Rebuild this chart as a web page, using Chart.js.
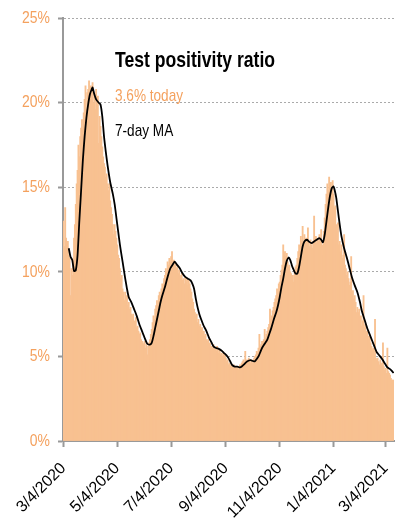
<!DOCTYPE html>
<html><head><meta charset="utf-8">
<script src="https://cdn.jsdelivr.net/npm/chart.js@4/dist/chart.umd.min.js"></script>
<style>html,body{margin:0;padding:0;background:#fff}#wrap{width:402px;height:529px;position:relative}</style>
</head><body><div id="wrap"><canvas id="c" width="402" height="529"></canvas></div>
<script>
// Daily test positivity (%), first day = 3/4/2020
const mar2020 = [13.0, 11.5, 13.8, 12.0, 8.4, 11.8, 11.0, 10.8, 8.6, 10.2, 9.8, 10.6, 12.0, 12.8, 14.0, 15.2, 16.0, 17.5, 16.8, 18.0, 18.5, 19.0, 18.4, 19.4, 20.2, 21.0, 19.6, 20.6];
const apr2020 = [20.8, 21.3, 20.2, 21.0, 20.6, 21.2, 20.0, 20.5, 19.6, 20.8, 20.0, 20.4, 17.6, 19.2, 18.6, 18.0, 17.4, 16.8, 16.4, 16.2, 15.6, 15.8, 15.2, 14.8, 15.2, 14.2, 13.8, 13.4, 12.8, 12.2];
const may2020 = [12.8, 12.4, 12.0, 11.6, 11.0, 10.8, 10.2, 9.6, 9.8, 9.0, 8.8, 8.3, 8.8, 8.4, 8.6, 8.0, 8.2, 7.8, 7.9, 7.5, 7.4, 7.5, 7.1, 7.0, 7.3, 6.7, 6.8, 6.5, 6.3, 6.4, 6.0];
const jun2020 = [5.9, 5.8, 5.7, 5.9, 5.5, 5.7, 5.1, 5.6, 5.8, 6.0, 6.3, 6.6, 7.0, 7.4, 7.2, 7.8, 8.0, 8.3, 8.0, 8.6, 8.8, 8.6, 9.0, 9.3, 9.2, 9.6, 9.8, 10.2, 10.0, 10.6];
const jul2020 = [10.4, 10.8, 10.6, 10.9, 11.2, 10.6, 10.7, 10.4, 10.5, 10.2, 10.3, 9.9, 10.1, 9.8, 9.7, 9.9, 9.5, 9.6, 9.3, 9.7, 9.4, 9.6, 9.2, 9.5, 9.3, 9.0, 8.8, 8.4, 8.2, 7.8, 7.6];
const aug2020 = [7.4, 7.5, 7.0, 7.2, 6.8, 6.9, 6.6, 6.7, 6.4, 6.5, 6.2, 6.3, 6.0, 5.9, 6.0, 5.7, 5.8, 5.5, 5.6, 5.5, 5.7, 5.4, 5.5, 5.3, 5.6, 5.4, 5.2, 5.4, 5.1, 5.2, 5.0];
const sep2020 = [5.2, 5.0, 5.1, 4.9, 4.7, 4.8, 4.5, 4.6, 4.4, 4.5, 4.3, 4.4, 4.5, 4.3, 4.4, 4.3, 4.4, 4.2, 4.4, 4.5, 4.3, 4.6, 4.7, 4.8, 4.6, 5.3, 4.7, 4.8, 4.6, 4.9];
const oct2020 = [4.7, 4.6, 4.8, 4.6, 4.7, 4.9, 5.0, 5.1, 5.3, 5.2, 5.5, 6.3, 5.6, 5.7, 5.9, 5.8, 6.0, 6.6, 6.1, 6.3, 6.5, 6.7, 6.9, 7.8, 7.2, 7.4, 7.7, 7.9, 8.2, 8.4, 8.6];
const nov2020 = [9.0, 8.8, 9.3, 9.4, 9.8, 10.1, 10.4, 11.6, 11.0, 11.2, 10.9, 11.1, 10.6, 10.3, 10.4, 10.0, 9.9, 9.6, 9.8, 9.4, 10.0, 10.3, 10.4, 10.8, 11.2, 11.6, 11.3, 12.1, 11.8, 12.7];
const dec2020 = [11.8, 12.2, 11.9, 12.0, 11.6, 12.6, 11.8, 11.5, 11.9, 11.6, 11.4, 11.8, 13.3, 11.9, 12.1, 11.7, 12.0, 11.8, 12.2, 11.9, 12.5, 11.6, 11.0, 12.4, 13.2, 14.0, 14.6, 15.2, 14.8, 15.6, 15.1];
const jan2021 = [15.3, 15.0, 15.4, 14.6, 13.8, 13.9, 12.8, 12.4, 12.9, 11.6, 11.8, 11.2, 11.6, 10.8, 11.0, 12.2, 10.4, 10.2, 9.8, 10.0, 9.6, 9.2, 9.4, 10.9, 8.8, 8.9, 8.4, 8.6, 8.2, 7.6, 7.9];
const feb2021 = [7.6, 7.8, 7.3, 7.4, 6.8, 7.1, 8.6, 6.7, 6.9, 6.4, 6.5, 6.2, 6.0, 6.3, 5.8, 5.6, 5.4, 5.5, 5.1, 7.2, 4.9, 4.8, 4.9, 4.7, 4.5, 4.8, 4.6, 4.5];
const mar2021 = [5.8, 4.4, 4.2, 4.3, 4.0, 5.5, 4.1, 4.0, 3.9, 3.7, 3.6, 3.6, 3.6];

// 7-day moving average (day index from 3/4/2020, value %)
const maDays = [6,8,10,12,14,16,18,20,22,24,26,28,30,32,33,35,37,40,42,44,46,48,50,53,56,58,60,62,64,67,70,72,74,77,80,83,86,89,92,95,98,100,102,104,106,108,110,112,115,118,121,124,126,129,132,135,138,141,144,146,148,150,152,154,156,159,162,165,168,170,173,176,179,182,185,187,189,191,194,197,200,202,205,208,212,215,217,219,221,223,225,228,231,233,235,237,239,241,243,245,247,249,251,253,255,257,259,261,263,265,267,269,271,273,276,278,281,284,287,290,292,294,296,298,300,302,304,306,307,309,311,313,315,318,321,324,327,330,333,336,338,341,344,347,350,353,355,358,361,364,367,370,372,374];
const maValues = [11.4,10.9,10.7,10.05,10.1,11.0,13.0,14.8,16.6,18.0,19.1,19.9,20.5,20.8,20.9,20.5,20.2,20.0,19.9,19.2,18.0,17.1,16.3,15.3,14.6,14.0,13.2,12.4,11.6,10.6,9.6,9.0,8.5,8.2,7.8,7.4,6.9,6.5,6.1,5.75,5.7,5.8,6.2,6.7,7.2,7.7,8.2,8.6,9.1,9.7,10.2,10.45,10.6,10.4,10.2,9.9,9.7,9.6,9.5,9.3,9.0,8.4,7.9,7.5,7.2,6.8,6.5,6.1,5.8,5.6,5.5,5.45,5.35,5.2,5.05,4.9,4.7,4.5,4.4,4.4,4.35,4.4,4.55,4.7,4.78,4.72,4.72,4.85,5.0,5.25,5.5,5.75,6.0,6.3,6.6,6.95,7.3,7.6,8.0,8.5,9.1,9.6,10.2,10.65,10.85,10.7,10.35,10.1,9.9,9.9,10.3,10.9,11.5,11.8,11.9,11.8,11.7,11.8,11.9,12.0,11.9,11.75,12.2,13.0,13.8,14.5,14.95,15.06,14.9,14.4,13.6,12.8,12.1,11.4,10.85,10.25,9.65,9.2,8.8,8.2,7.7,7.2,6.7,6.3,5.9,5.5,5.25,5.05,4.85,4.6,4.35,4.25,4.15,4.02];

const yTicks = [0, 5, 10, 15, 20, 25];
const xTickDays = [0, 61, 122, 184, 245, 306, 365];
const xTickLabels = ['3/4/2020', '5/4/2020', '7/4/2020', '9/4/2020', '11/4/2020', '1/4/2021', '3/4/2021'];
const titleText = 'Test positivity ratio';
const maLabel = '7-day MA';

const daily = [].concat(mar2020, apr2020, may2020, jun2020, jul2020, aug2020, sep2020, oct2020, nov2020, dec2020, jan2021, feb2021, mar2021);
const todayLabel = daily[daily.length - 1].toFixed(1) + '% today';

const SANS = '"Liberation Sans", Arial, sans-serif';
const ORANGE = '#F4A15E';
const BAR = 'rgb(248,193,145)';
const NARROW_X = 0.8;

function narrowText(c, text, x, y, font, color) {
  c.save();
  c.font = font;
  c.fillStyle = color;
  c.textAlign = 'left';
  c.textBaseline = 'alphabetic';
  c.translate(x, y);
  c.scale(NARROW_X, 1);
  c.fillText(text, 0, 0);
  c.restore();
}

const textPlugin = {
  id: 'txt',
  beforeDraw(chart) {
    const s = chart.scales.y;
    if (s && !s._narrowPatched) {
      const orig = s.drawLabels;
      s.drawLabels = function (area) {
        const c = this.ctx;
        const ax = this.right - this.options.grid.tickLength - this.options.ticks.padding;
        c.save();
        c.translate(ax, 0);
        c.scale(0.82, 1);
        c.translate(-ax, 0);
        orig.call(this, area);
        c.restore();
      };
      s._narrowPatched = true;
    }
  },
  afterDraw(chart) {
    const c = chart.ctx;
    narrowText(c, titleText, 115, 67, 'bold 22px ' + SANS, '#000');
    narrowText(c, todayLabel, 115, 101, '17px ' + SANS, ORANGE);
    narrowText(c, maLabel, 115, 136, '17px ' + SANS, '#000');
  }
};

new Chart(document.getElementById('c'), {
  type: 'bar',
  data: {
    datasets: [
      {
        type: 'line',
        data: maDays.map((d, i) => ({x: d, y: maValues[i]})),
        borderColor: '#000',
        borderWidth: 1.8,
        pointRadius: 0,
        tension: 0.2,
        order: 0
      },
      {
        type: 'bar',
        data: daily.map((v, i) => ({x: i, y: v})),
        backgroundColor: BAR,
        borderWidth: 0,
        barThickness: 1.2,
        order: 1
      }
    ]
  },
  options: {
    responsive: false,
    animation: false,
    devicePixelRatio: 1,
    layout: {padding: {top: 16, right: 8, left: 0, bottom: 0}},
    plugins: {legend: {display: false}, tooltip: {enabled: false}},
    scales: {
      x: {
        type: 'linear',
        min: -0.5,
        max: daily.length - 0.5,
        offset: false,
        afterBuildTicks: s => { s.ticks = xTickDays.map(v => ({value: v})); },
        afterFit: s => { s.height = 88; s.paddingLeft = 0; s.paddingRight = 0; },
        ticks: {
          autoSkip: false, minRotation: 45, maxRotation: 45,
          callback: v => { const i = xTickDays.indexOf(v); return i >= 0 ? xTickLabels[i] : ''; },
          color: '#000', font: {family: SANS, size: 16}, padding: 12
        },
        grid: {offset: false, drawOnChartArea: false, tickLength: 6, tickColor: '#999', tickWidth: 2},
        border: {color: '#999', width: 2}
      },
      y: {
        min: 0, max: 25,
        afterBuildTicks: s => { s.ticks = yTicks.map(v => ({value: v})); },
        afterFit: s => { s.width = 63; },
        ticks: {callback: v => v + '%', color: ORANGE, font: {family: SANS, size: 17}, padding: 8},
        grid: {color: '#aaa', lineWidth: 1, tickLength: 5, tickColor: '#999', tickWidth: 2},
        border: {color: '#999', width: 2, dash: [2, 2]}
      }
    }
  },
  plugins: [textPlugin]
});
</script>
</body></html>
